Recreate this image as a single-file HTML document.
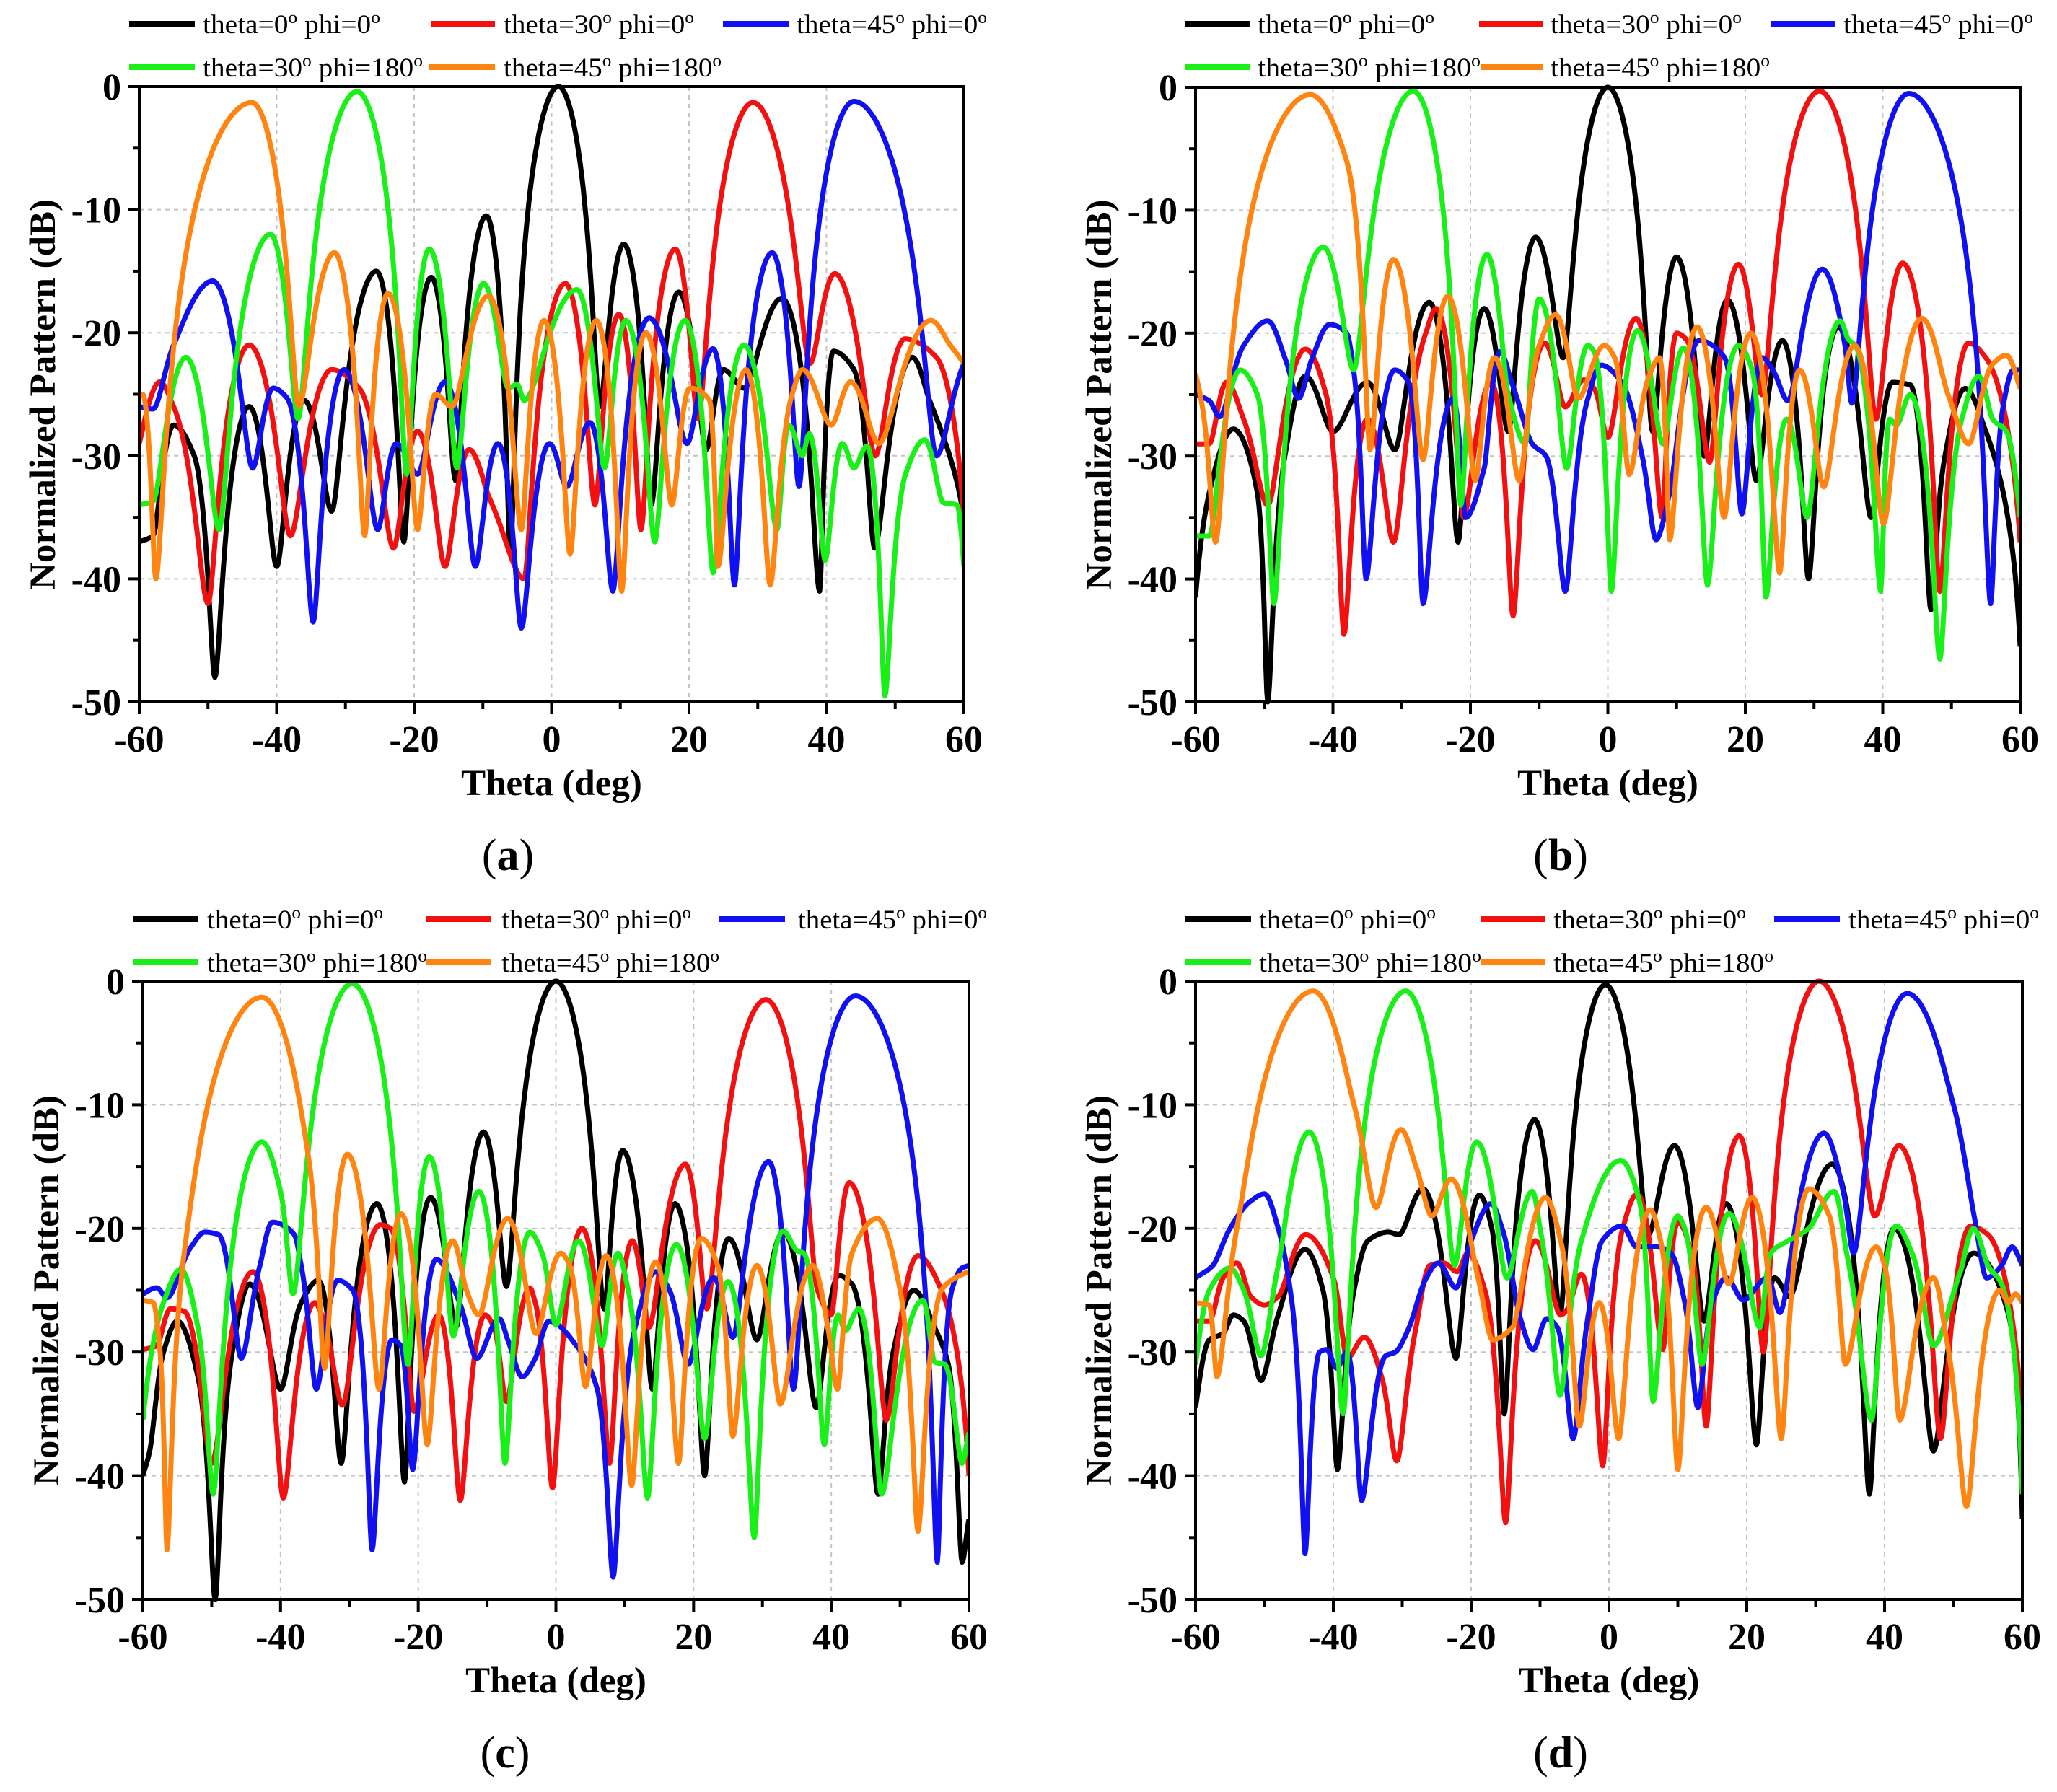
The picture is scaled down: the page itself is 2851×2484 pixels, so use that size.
<!DOCTYPE html>
<html><head><meta charset="utf-8"><title>Normalized patterns</title>
<style>
html,body{margin:0;padding:0;background:#fff;}
svg{display:block;}
</style></head>
<body>
<svg id="fig" xmlns="http://www.w3.org/2000/svg" width="2851" height="2484" viewBox="0 0 2851 2484"></svg>
<script>
// ---------- tick labels ----------
const xTickValues = [-60,-40,-20,0,20,40,60];
const yTickValues = [0,-10,-20,-30,-40,-50];
const seriesLabels = [["theta=0","o"," phi=0","o"],["theta=30","o"," phi=0","o"],["theta=45","o"," phi=0","o"],["theta=30","o"," phi=180","o"],["theta=45","o"," phi=180","o"]];

// ---------- panel (a) ----------
const aBlackTheta=[-60,-58,-55,-52,-49,-44,-40,-36,-32,-25.5,-21.5,-17.5,-14,-9.5,-6,1,7,10.5,14.5,18.5,22.5,25,28,33.5,39,41,44,47,52.5,55,60];
const aBlackDb=[-37,-36.5,-27.5,-30,-48,-26,-39,-25.5,-34.5,-15,-37,-15.5,-32,-10.5,-38,0,-26,-12.8,-34,-16.7,-29.5,-23,-24.5,-17.2,-41,-21.5,-23,-37.5,-22,-25.5,-35];
const aRedTheta=[-60,-57,-55,-50,-44,-38,-32,-28,-23,-19.5,-15.5,-12,-9,-4,2,6.3,9.8,13,18,21.3,29.3,37.6,41.2,47.1,51.4,56,60];
const aRedDb=[-29,-24,-26,-42,-21,-36.5,-23,-24.5,-37.5,-28,-39,-29.5,-33.5,-40,-16,-34,-18.5,-36,-13.2,-27,-1.3,-22.5,-15.2,-30,-20.5,-22,-35];
const aBlueTheta=[-60,-58,-55,-49.3,-43.5,-40.5,-38.5,-34.7,-30.2,-25.3,-22.6,-19.5,-15.5,-11.1,-7.8,-4.4,-0.3,2.2,5.6,8.9,14.2,19.7,23.5,26.6,32.1,36,44,56,60];
const aBlueDb=[-26,-26.2,-21,-15.8,-31,-24.5,-25.3,-43.5,-23,-36,-29,-31.5,-24,-39,-29,-44,-29,-32.5,-27.3,-41,-18.8,-29,-21.3,-40.5,-13.5,-32.5,-1.2,-30,-22.5];
const aGreenTheta=[-60,-58,-53.2,-48.4,-40.9,-36.9,-28.3,-21.1,-17.8,-13.8,-9.9,-6.3,-5,-4,3.7,7.7,10.8,15,19.4,23.5,28,32.8,34.5,36.5,37.5,39.8,42.3,44,45.9,48.5,51.5,54.3,57,59,60];
const aGreenDb=[-34,-33.7,-22,-36,-12,-27,-0.4,-31.5,-13.2,-31,-16,-24.5,-24.2,-25.5,-16.5,-31,-19,-37,-19,-39.5,-21,-36,-27.5,-30,-28.2,-38.5,-29,-31,-29.2,-49.5,-31.5,-28.7,-33.8,-34,-39];
const aOrangeTheta=[-60,-59.5,-57.6,-43.6,-36.8,-31.6,-27.2,-23.8,-19.5,-16.9,-14.5,-9.2,-4.4,-1.1,2.7,6.5,10.2,13.7,17.5,20.1,23,24.2,28.3,31.8,35,36.5,40.7,43.5,47.6,55.2,58,60];
const aOrangeDb=[-25,-25,-40,-1.3,-26,-13.5,-36.5,-16.8,-36,-25,-26,-17,-36,-19,-38,-19,-41,-20,-34,-24.5,-25.5,-39,-23,-40.5,-25,-23,-27.5,-24,-29,-19,-21,-22.5];

// ---------- panel (b) ----------
const bBlackTheta=[-60,-58,-54.5,-51,-49.5,-47,-44,-40,-35,-31,-26,-21.8,-18,-14.5,-10.5,-6.5,0,6.5,10,14,17.4,21.6,25.4,29.2,33.5,38.3,41.4,44,47,48.9,52,55,60];
const bBlackDb=[-41.5,-33,-27.8,-33,-50,-30,-23.5,-28,-24,-29.5,-17.5,-37,-18,-28,-12.2,-22,0,-28,-13.8,-30,-17.3,-32,-20.6,-40,-19.5,-35,-24,-24.2,-42.5,-30.5,-24.5,-28,-45.5];
const bRedTheta=[-60,-58,-55.5,-53,-49.5,-44,-41,-38.4,-35,-31.2,-26.5,-25,-21,-17,-13.8,-9.2,-6.2,-3.5,-2,0,4.1,7.9,10,11.4,14.8,19,22.4,30.8,39,42.9,48.3,52.5,55,60];
const bRedDb=[-29,-29,-24,-27,-34,-21.3,-25,-44.5,-27,-37,-20,-18,-35,-24,-43,-20.8,-26,-23.8,-24.5,-28.5,-18.8,-35,-20,-20.5,-30.5,-14.4,-25,-0.3,-27,-14.3,-41,-20.8,-22,-37];
const bBlueTheta=[-60,-58,-56.5,-53,-49.5,-47,-45,-43,-40.5,-38,-37,-35.2,-31,-29,-26.9,-22.5,-20.7,-18,-15.7,-14,-11,-9,-6.2,-3,-1,2,5,7,9,13.3,17,19.5,22.5,24,26.2,31.2,34.5,35.5,43.8,55.7,57.5,59,60];
const bBlueDb=[-25,-25.5,-26.8,-21,-19,-22,-25.3,-22,-19.3,-20,-23,-40,-23,-24,-42,-25.3,-35,-31,-21.5,-24,-29,-30,-41,-25.5,-22.6,-24,-30,-36.8,-33,-20.6,-22,-34.7,-22,-23,-25.5,-14.8,-21,-25.7,-0.5,-42,-26,-23,-23];
const bGreenTheta=[-60,-58,-53.5,-51,-48.6,-41.4,-37,-28.3,-21.4,-17.6,-14.5,-12,-10,-6,-2.9,-2,0.5,4.3,8,11,14.5,19,21,23,26,29,33.8,35,36,39.7,41,42,44,48.3,51.5,54,56,58,60];
const bGreenDb=[-36.5,-36.5,-23,-25,-42,-13,-23,-0.3,-34,-13.6,-25,-29,-17.2,-31,-21,-21.5,-41,-19.8,-29,-21.2,-40.5,-21,-23,-41.5,-27,-35,-19,-20.5,-21,-41,-27,-27.5,-25,-46.5,-27,-23.5,-27,-28,-35];
const bOrangeTheta=[-60,-59,-57.1,-43.3,-38,-34.6,-31.2,-26.9,-23.3,-19.3,-16.5,-12.9,-10,-7.6,-4.3,-0.5,1,3.1,6,7.5,9,13,16.9,20.8,25,27.9,31.4,35.9,40.1,45.7,49.5,52.5,56,58,60];
const bOrangeDb=[-23.3,-26,-37,-0.6,-6,-29.5,-14,-30.3,-17,-32,-22,-32,-21,-18.5,-25.3,-21,-22,-31.5,-23.5,-22,-36.8,-19.5,-35,-20,-39.5,-23,-32.5,-21,-35.5,-18.8,-25,-29,-22.5,-21.8,-24.5];

// ---------- panel (c) ----------
const cBlackTheta=[-60,-59,-57,-55,-52,-49.5,-47,-44.5,-40,-37,-34.5,-31.2,-26,-22,-18.2,-14.5,-10.5,-7.2,0,7,9.7,14,17.3,21.6,25.1,29.2,33,37.8,41.1,43,46.8,49,52,55,57,59,60];
const cBlackDb=[-40,-38,-30,-27.5,-32,-50,-30,-24.5,-33,-26,-24.2,-39,-18,-40.5,-17.5,-28,-12.2,-24.7,0,-26.5,-13.7,-33,-18,-40,-20.8,-29,-20.3,-34.5,-23.8,-24.5,-41.5,-30,-25,-28,-31,-47,-43.5];
const cRedTheta=[-60,-58,-56,-54,-50,-44,-39.6,-35,-34,-31,-25.5,-24,-20.6,-17,-13.9,-10.3,-9,-7.2,-3.8,-3,-0.5,3.8,7.8,11.1,13.5,18.8,21.9,30.5,38,40,42.6,48,52.6,56,60];
const cRedDb=[-29.8,-29.5,-26.5,-26.7,-39,-23.5,-41.8,-26,-27,-34.3,-19.7,-20,-34.8,-27,-42,-27,-28,-34,-24.8,-26,-41,-20,-39,-21,-28,-14.8,-26.5,-1.5,-25,-27,-16.3,-35.5,-22.2,-25,-40];
const cBlueTheta=[-60,-58,-56.5,-53,-51,-49,-45.7,-43,-41.2,-38,-37,-34.8,-31.7,-29.5,-26.7,-23.8,-22.5,-20.8,-17.4,-14,-11.5,-8.2,-7,-4.9,-3,-1,3,6,8.3,11.5,14.5,16.5,19.2,22.9,25.7,30.9,34.5,43.5,55.4,57.5,59,60];
const cBlueDb=[-25.3,-24.8,-25.6,-21.5,-20.3,-20.5,-30.5,-23,-19.5,-20.5,-23,-33,-24.2,-25,-46,-29,-29.5,-39.5,-22.5,-26,-30.5,-27.3,-29,-32,-30.5,-27.5,-29.5,-33,-48.2,-28,-23.5,-25,-31,-24,-28.8,-14.6,-33,-1.2,-47,-25,-23.2,-23];
const cGreenTheta=[-60,-57,-54.5,-52,-49.8,-42.7,-40,-38.2,-29.6,-21.5,-18.4,-14.9,-11.2,-7.4,-3.8,-2,0,3.3,6.7,9,10.5,13.3,17.5,21.6,25,28.8,33,35,36,39,41,42,44,47.3,53.3,55,56.5,59,60];
const cGreenDb=[-35.5,-26,-23.3,-28,-41.5,-13,-17,-25.3,-0.2,-31,-14.2,-28.7,-17,-39,-20.3,-22,-27.8,-21,-29.5,-22,-25,-41.8,-21.3,-37,-24.3,-45,-20.2,-21.8,-22,-37.5,-27,-28.3,-26.5,-41.5,-25.8,-30.8,-31,-39,-36.5];
const cOrangeTheta=[-60,-58.5,-57.5,-56.5,-54,-42.7,-36,-33.6,-30.3,-25.7,-22.5,-18.7,-15,-13,-11.2,-7,-2.9,0.7,2,4.3,7.3,11,14.5,17.8,21.1,23.5,25.7,29.2,32.6,37.3,39.5,40.9,43,46.7,50,52.6,56,58,60];
const cOrangeDb=[-25.8,-26,-30,-46,-22,-1.3,-14,-31.3,-14,-33,-18.8,-37.5,-21,-25,-27,-19.2,-28.5,-22,-23,-32.8,-22.2,-40.8,-22.7,-39,-20.8,-23,-36.8,-23,-34.2,-23,-28,-33,-22,-19.2,-25,-44.5,-25,-24,-23.5];

// ---------- panel (d) ----------
const dBlackTheta=[-60,-58,-56,-54.5,-53,-50.5,-48,-44.1,-41.5,-39.4,-37,-35,-32,-30.5,-27,-22.2,-18.8,-17,-15.2,-10.8,-7.1,-0.5,5.7,9.5,13.8,17,21.4,24,26.2,32.4,37.8,41.4,47.1,52.9,58,60];
const dBlackDb=[-34.5,-29,-28.5,-27,-27.5,-32.3,-27,-21.7,-25,-39.5,-25,-21,-20.3,-20.5,-16.8,-30.5,-17.3,-20,-35,-11.2,-27,-0.3,-20.5,-13.3,-27.5,-18,-37.5,-24,-25.5,-14.8,-41.5,-20,-38,-22,-27,-43.5];
const dRedTheta=[-60,-58,-56,-54,-52,-50,-48,-44,-40,-38,-35.5,-33,-30.8,-28,-26,-24,-22,-20.5,-18,-15,-10.7,-7,-6,-4,-0.9,2,4.1,7.8,10,12,14.1,18.9,22.4,30.5,38.6,42.1,48.1,52.5,55,60];
const dRedDb=[-27.5,-27.5,-24,-22.8,-25.5,-26.2,-25.5,-20.5,-24,-30.5,-28.8,-32,-38.8,-28,-23,-22.8,-23.5,-22,-25,-43.8,-21,-27,-26.5,-23.7,-39.2,-20,-17.2,-29.8,-19.5,-22,-36,-12.5,-30,0,-19,-13.3,-37,-19.8,-20.5,-35.5];
const dBlueTheta=[-60,-57.5,-55,-52,-50,-48,-46,-44.1,-42,-41,-39.5,-38,-35.9,-32.4,-31,-29,-26.5,-24.8,-22.2,-20,-17.1,-15.5,-13,-11,-9,-7.5,-5.2,-3,-1,1.9,4,7,9,11,12.9,15,17,19.5,23,24.8,31.2,34,35.5,43.3,50,53,54.8,57,58.5,60];
const dBlueDb=[-24,-23,-20,-17.8,-17.2,-20,-26,-46.3,-30,-29.8,-31.3,-30,-42,-30.3,-30,-28,-24,-22.8,-24.8,-21,-18,-20,-27,-29.8,-27.3,-28,-37,-27,-21,-19.8,-21.5,-21.5,-22,-26,-34.5,-26,-24,-25.8,-24,-26.8,-12.3,-17,-22,-1,-10,-19,-24,-23,-21.5,-23];
const dGreenTheta=[-60,-58,-55,-53,-50.5,-48,-43.5,-38.6,-29.5,-22.4,-19.2,-14.8,-11.1,-10,-7.1,-4,1.7,4.5,6.4,10,11,13.5,17.4,21.9,23.5,26,29,32.7,34.5,38.1,41.7,44,47.1,51,52.9,55,57,60];
const dGreenDb=[-31,-25,-23.2,-25,-30.3,-23,-12.2,-35,-0.8,-23,-13,-24,-17,-20,-33.5,-21,-14.5,-18,-34,-19,-20,-31,-18.8,-28,-22,-21,-20,-17,-22,-35.5,-19.8,-22,-29.5,-23.5,-20,-23,-24.5,-41.5];
const dOrangeTheta=[-60,-58,-56.9,-54,-42.9,-37,-33.8,-30.2,-28,-25.7,-22.9,-19,-16.9,-14,-9.2,-7,-4.3,-1.4,1.4,6,7.5,10,14.1,17.4,20.8,25,29,32,34.3,38.8,40,42.2,47.1,49,51.9,56.7,58,59,60];
const dOrangeDb=[-26,-26.2,-32,-20,-0.8,-10,-18.3,-12,-15,-19,-16,-24,-29,-28,-17.5,-21,-36,-26,-37,-18.5,-21,-39.5,-18.3,-24.5,-17.5,-37,-16.8,-19,-31,-21.5,-23,-35.5,-24,-29,-42.5,-25,-26,-25.3,-26];

// ---------- layout ----------
const NS="http://www.w3.org/2000/svg";
const svg=document.getElementById('fig');
const colors=["#000000","#f21010","#1010f0","#18f018","#ff8410"];
const seriesNames=["theta0-phi0","theta30-phi0","theta45-phi0","theta30-phi180","theta45-phi180"];
const panels=[
 {id:"a",L:193,R:1336,T:120,B:973,lab:"a",labX:704,
  rows:[33,93],leg:[[179,270,281,527,0],[597,686,698,962,0],[1002,1093,1104,1368,0],[179,270,281,586,1],[595,686,698,1000,1]],
  th:[aBlackTheta,aRedTheta,aBlueTheta,aGreenTheta,aOrangeTheta],db:[aBlackDb,aRedDb,aBlueDb,aGreenDb,aOrangeDb]},
 {id:"b",L:1657,R:2800,T:121,B:973,lab:"b",labX:2163,
  rows:[33,93],leg:[[1643,1732,1743,1988,0],[2050,2138,2149,2414,0],[2455,2544,2555,2818,0],[1643,1732,1743,2052,1],[2052,2138,2149,2453,1]],
  th:[bBlackTheta,bRedTheta,bBlueTheta,bGreenTheta,bOrangeTheta],db:[bBlackDb,bRedDb,bBlueDb,bGreenDb,bOrangeDb]},
 {id:"c",L:198,R:1343,T:1360,B:2217,lab:"c",labX:700,
  rows:[1274,1334],leg:[[184,275,287,531,0],[591,681,695,958,0],[997,1088,1106,1368,0],[184,275,287,592,1],[591,681,695,997,1]],
  th:[cBlackTheta,cRedTheta,cBlueTheta,cGreenTheta,cOrangeTheta],db:[cBlackDb,cRedDb,cBlueDb,cGreenDb,cOrangeDb]},
 {id:"d",L:1657,R:2803,T:1360,B:2217,lab:"d",labX:2163,
  rows:[1274,1334],leg:[[1643,1734,1745,1990,0],[2052,2142,2153,2420,0],[2459,2550,2562,2826,0],[1643,1734,1745,2053,1],[2052,2142,2153,2458,1]],
  th:[dBlackTheta,dRedTheta,dBlueTheta,dGreenTheta,dOrangeTheta],db:[dBlackDb,dRedDb,dBlueDb,dGreenDb,dOrangeDb]}
];

function mk(tag,attrs,parent){const e=document.createElementNS(NS,tag);for(const k in attrs)e.setAttribute(k,attrs[k]);(parent||svg).appendChild(e);return e;}

// monotone cubic (Fritsch-Carlson) in linear amplitude
function curvePoints(xs,dbs){
  const n=Math.min(xs.length,dbs.length);
  const x=xs.slice(0,n), y=dbs.slice(0,n).map(d=>Math.pow(10,d/20));
  const dx=[],m=[];
  for(let i=0;i<n-1;i++){dx.push(x[i+1]-x[i]);m.push((y[i+1]-y[i])/(x[i+1]-x[i]));}
  const t=new Array(n);
  t[0]=m[0];t[n-1]=m[n-2];
  for(let i=1;i<n-1;i++){
    if(m[i-1]*m[i]<=0)t[i]=0;
    else t[i]=3*(dx[i-1]+dx[i])/((2*dx[i]+dx[i-1])/m[i-1]+(dx[i]+2*dx[i-1])/m[i]);
  }
  const out=[];
  for(let i=0;i<n-1;i++){
    const steps=Math.max(6,Math.round(dx[i]*8));
    for(let s=0;s<steps;s++){
      const u=s/steps,h=dx[i];
      const h00=2*u*u*u-3*u*u+1,h10=u*u*u-2*u*u+u,h01=-2*u*u*u+3*u*u,h11=u*u*u-u*u;
      const a=h00*y[i]+h10*h*t[i]+h01*y[i+1]+h11*h*t[i+1];
      out.push([x[i]+u*h,20*Math.log10(Math.max(a,0.003))]);
    }
  }
  out.push([x[n-1],dbs[n-1]]);
  return out;
}

panels.forEach((p,pi)=>{
  const g=mk('g',{});
  
  
  const xs=v=>p.L+(v+60)/120*(p.R-p.L);
  const ys=v=>p.T+(-v)/50*(p.B-p.T);
  // grid
  const grid=mk('g',{stroke:"#c4c4c4","stroke-width":2,"stroke-dasharray":"6,6"},g);
  
  
  xTickValues.slice(1,-1).forEach(v=>mk('line',{x1:xs(v),x2:xs(v),y1:p.T,y2:p.B},grid));
  yTickValues.slice(1,-1).forEach(v=>mk('line',{x1:p.L,x2:p.R,y1:ys(v),y2:ys(v)},grid));
  // clip
  const cp=mk('clipPath',{id:'clip'+p.id},g);
  mk('rect',{x:p.L,y:p.T-4,width:p.R-p.L,height:p.B-p.T+8},cp);
  // series
  for(let s=0;s<5;s++){
    const pts=curvePoints(p.th[s],p.db[s]);
    const d=pts.map((q,i)=>(i?'L':'M')+xs(q[0]).toFixed(1)+' '+ys(Math.max(q[1],-50.5)).toFixed(1)).join('');
    const path=mk('path',{d:d,fill:"none",stroke:colors[s],"stroke-width":7,"stroke-linejoin":"round","clip-path":"url(#clip"+p.id+")"},g);
    
    
  }
  // axes frame
  const frame=mk('rect',{x:p.L,y:p.T,width:p.R-p.L,height:p.B-p.T,fill:"none",stroke:"#000","stroke-width":4},g);
  
  
  const ticks=mk('g',{stroke:"#000","stroke-width":4},g);
  
  
  for(let v=-60;v<=60;v+=10){const big=(v%20===0);mk('line',{x1:xs(v),x2:xs(v),y1:p.B,y2:p.B+(big?17:10)},ticks);}
  for(let v=0;v>=-50;v-=5){const big=(v%10===0);mk('line',{x1:p.L,x2:p.L-(big?15:9),y1:ys(v),y2:ys(v)},ticks);}
  // tick labels
  xTickValues.forEach(v=>{
    const t=mk('text',{x:xs(v),y:p.B+69,"text-anchor":"middle","font-family":"Liberation Serif, serif","font-weight":"bold","font-size":52},g);
    t.textContent=v;
    
    
  });
  yTickValues.forEach(v=>{
    const t=mk('text',{x:p.L-25,y:ys(v)+18,"text-anchor":"end","font-family":"Liberation Serif, serif","font-weight":"bold","font-size":52},g);
    t.textContent=v;
    
    
  });
  // axis titles
  const xt=mk('text',{x:(p.L+p.R)/2,y:p.B+129,"text-anchor":"middle","font-family":"Liberation Serif, serif","font-weight":"bold","font-size":51},g);
  xt.textContent="Theta (deg)";
  
  
  const cy=(p.T+p.B)/2, bx=p.L-117;
  const yt=mk('text',{x:bx,y:cy,"text-anchor":"middle",transform:`rotate(-90 ${bx} ${cy})`,"font-family":"Liberation Serif, serif","font-weight":"bold","font-size":51},g);
  yt.textContent="Normalized Pattern (dB)";
  
  
  // subfigure label
  const sl=mk('text',{x:p.labX,y:p.B+233,"text-anchor":"middle","font-family":"Liberation Serif, serif","font-size":62},g);
  
  
  const t1=mk('tspan',{},sl);t1.textContent="(";
  const t2=mk('tspan',{"font-weight":"bold"},sl);t2.textContent=p.lab;
  const t3=mk('tspan',{},sl);t3.textContent=")";
  // legend
  const lg=mk('g',{},g);
  
  
  p.leg.forEach((e,s)=>{
    const y=p.rows[e[4]];
    const eg=mk('g',{},lg);
    
    
    mk('line',{x1:e[0],x2:e[1],y1:y,y2:y,stroke:colors[s],"stroke-width":8},eg);
    const tx=mk('text',{x:e[2],y:y+13,"font-family":"Liberation Serif, serif","font-size":37,textLength:e[3]-e[2],lengthAdjust:"spacingAndGlyphs"},eg);
    const lab=seriesLabels[s];
    const a=mk('tspan',{},tx);a.textContent=lab[0];
    const b=mk('tspan',{dy:-14,"font-size":24},tx);b.textContent=lab[1];
    const c=mk('tspan',{dy:14},tx);c.textContent=lab[2];
    const d=mk('tspan',{dy:-14,"font-size":24},tx);d.textContent=lab[3];
  });
});
</script>
</body></html>
